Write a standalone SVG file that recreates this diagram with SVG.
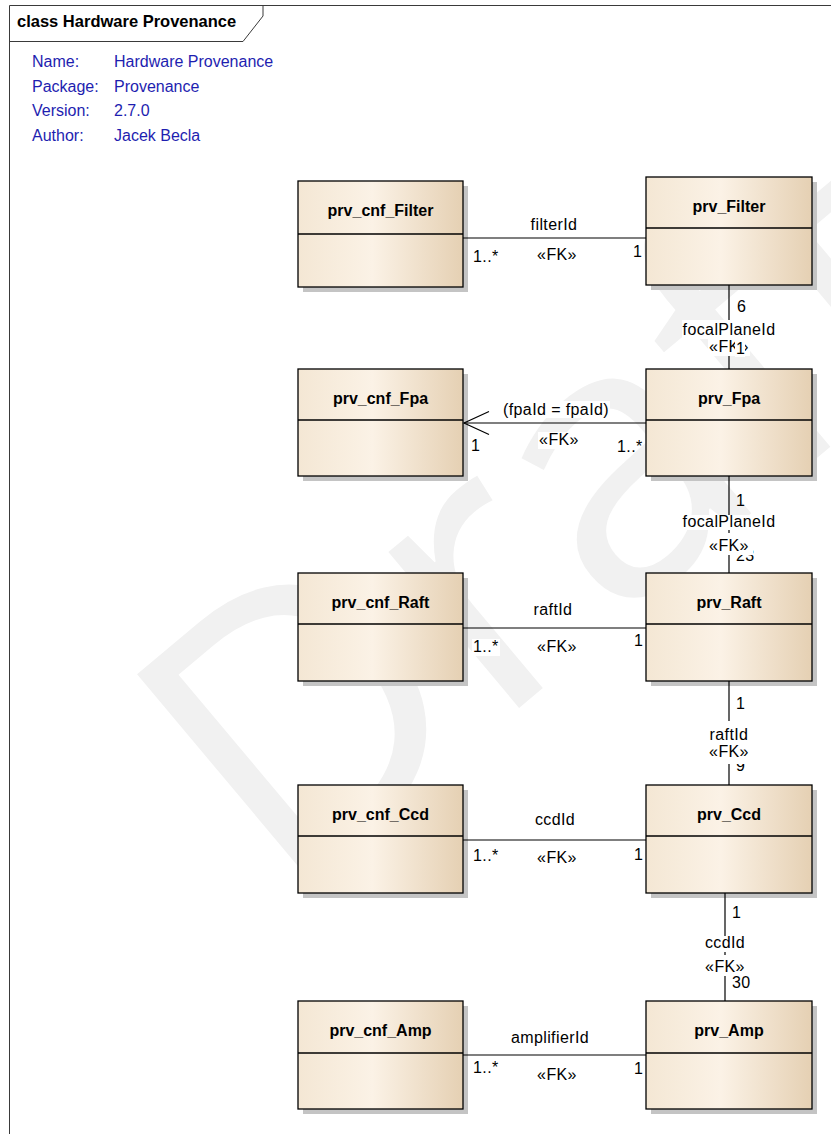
<svg xmlns="http://www.w3.org/2000/svg" width="831" height="1134" viewBox="0 0 831 1134">
<style>
.frame{fill:none;stroke:#3a3a3a;stroke-width:1}
.title{font-family:"Liberation Sans",Arial,sans-serif;font-size:16.5px;font-weight:bold;fill:#000}
.meta{font-family:"Liberation Sans",Arial,sans-serif;font-size:16px;fill:#1e1eb0}
.box{fill:url(#nodeFill);stroke:#000;stroke-width:1.3}
.shadow{fill:#c4c4c4}
.div{stroke:#000;stroke-width:1.3}
.name{font-family:"Liberation Sans",Arial,sans-serif;font-size:16px;font-weight:bold;fill:#000;text-anchor:middle}
.line{fill:none;stroke:#000;stroke-width:1.2}
.lbl{font-family:"Liberation Sans",Arial,sans-serif;font-size:16px;letter-spacing:0.4px;fill:#000}
.mid{text-anchor:middle}
.bg{fill:#fff}
.wm{font-family:"Open Sans","Liberation Sans",sans-serif;font-weight:400;font-size:380px;fill:#f1f1f1}
</style>
<defs>
<linearGradient id="nodeFill" x1="0" y1="0" x2="1" y2="0">
<stop offset="0" stop-color="#f4e7d4"/>
<stop offset="0.45" stop-color="#fbf2e6"/>
<stop offset="1" stop-color="#e5d0b3"/>
</linearGradient>
</defs>
<rect width="831" height="1134" fill="#fff"/>
<g id="watermark">
<text class="wm" x="283" y="906" transform="rotate(-40 283 906)">Draft</text>
</g>
<g id="frame">
<path class="frame" d="M9.5,1134 V5.5 H831"/>
<path class="frame" d="M263,5.5 V16 L243,41.5 H9.5"/>
<text class="title" x="17" y="27">class Hardware Provenance</text>
<text class="meta" x="32" y="67">Name:</text>
<text class="meta" x="114" y="67">Hardware Provenance</text>
<text class="meta" x="32" y="92">Package:</text>
<text class="meta" x="114" y="92">Provenance</text>
<text class="meta" x="32" y="116">Version:</text>
<text class="meta" x="114" y="116">2.7.0</text>
<text class="meta" x="32" y="141">Author:</text>
<text class="meta" x="114" y="141">Jacek Becla</text>
</g>
<g id="node-prv_cnf_Filter">
<rect class="shadow" x="303" y="186" width="165" height="106"/>
<rect class="box" x="298" y="181" width="165" height="106"/>
<line class="div" x1="298" y1="234" x2="463" y2="234"/>
<text class="name" x="380.5" y="216">prv_cnf_Filter</text>
</g>
<g id="node-prv_Filter">
<rect class="shadow" x="651" y="182" width="166" height="108"/>
<rect class="box" x="646" y="177" width="166" height="108"/>
<line class="div" x1="646" y1="228" x2="812" y2="228"/>
<text class="name" x="729" y="212">prv_Filter</text>
</g>
<g id="node-prv_cnf_Fpa">
<rect class="shadow" x="303" y="374" width="165" height="107"/>
<rect class="box" x="298" y="369" width="165" height="107"/>
<line class="div" x1="298" y1="420" x2="463" y2="420"/>
<text class="name" x="380.5" y="404">prv_cnf_Fpa</text>
</g>
<g id="node-prv_Fpa">
<rect class="shadow" x="651" y="374" width="166" height="107"/>
<rect class="box" x="646" y="369" width="166" height="107"/>
<line class="div" x1="646" y1="420" x2="812" y2="420"/>
<text class="name" x="729" y="404">prv_Fpa</text>
</g>
<g id="node-prv_cnf_Raft">
<rect class="shadow" x="303" y="578" width="165" height="108"/>
<rect class="box" x="298" y="573" width="165" height="108"/>
<line class="div" x1="298" y1="624" x2="463" y2="624"/>
<text class="name" x="380.5" y="608">prv_cnf_Raft</text>
</g>
<g id="node-prv_Raft">
<rect class="shadow" x="651" y="578" width="166" height="108"/>
<rect class="box" x="646" y="573" width="166" height="108"/>
<line class="div" x1="646" y1="624" x2="812" y2="624"/>
<text class="name" x="729" y="608">prv_Raft</text>
</g>
<g id="node-prv_cnf_Ccd">
<rect class="shadow" x="303" y="790" width="165" height="108"/>
<rect class="box" x="298" y="785" width="165" height="108"/>
<line class="div" x1="298" y1="836" x2="463" y2="836"/>
<text class="name" x="380.5" y="820">prv_cnf_Ccd</text>
</g>
<g id="node-prv_Ccd">
<rect class="shadow" x="651" y="790" width="166" height="108"/>
<rect class="box" x="646" y="785" width="166" height="108"/>
<line class="div" x1="646" y1="836" x2="812" y2="836"/>
<text class="name" x="729" y="820">prv_Ccd</text>
</g>
<g id="node-prv_cnf_Amp">
<rect class="shadow" x="303" y="1006" width="165" height="108"/>
<rect class="box" x="298" y="1001" width="165" height="108"/>
<line class="div" x1="298" y1="1053" x2="463" y2="1053"/>
<text class="name" x="380.5" y="1036">prv_cnf_Amp</text>
</g>
<g id="node-prv_Amp">
<rect class="shadow" x="651" y="1006" width="166" height="108"/>
<rect class="box" x="646" y="1001" width="166" height="108"/>
<line class="div" x1="646" y1="1053" x2="812" y2="1053"/>
<text class="name" x="729" y="1036">prv_Amp</text>
</g>
<g id="connectors">
<!-- Filter row -->
<line class="line" x1="463" y1="238" x2="646" y2="238"/>
<rect class="bg" x="529" y="217" width="50" height="16"/>
<text class="lbl mid" x="554" y="230">filterId</text>
<rect class="bg" x="472" y="249" width="28" height="16"/>
<text class="lbl" x="473" y="262">1..*</text>
<rect class="bg" x="536" y="247" width="42" height="17"/>
<text class="lbl mid" x="557" y="260">«FK»</text>
<text class="lbl" x="633" y="257">1</text>
<!-- Fpa row -->
<line class="line" x1="464" y1="423" x2="646" y2="423"/>
<polyline class="line" points="489,411.5 464,423 489,434.5"/>
<rect class="bg" x="503" y="401" width="107" height="17"/>
<text class="lbl mid" x="556" y="415">(fpaId = fpaId)</text>
<text class="lbl" x="471" y="451">1</text>
<rect class="bg" x="538" y="432" width="42" height="17"/>
<text class="lbl mid" x="559" y="445">«FK»</text>
<text class="lbl" x="617" y="452">1..*</text>
<!-- Raft row -->
<line class="line" x1="463" y1="628" x2="646" y2="628"/>
<rect class="bg" x="533" y="602" width="41" height="16"/>
<text class="lbl mid" x="553" y="615">raftId</text>
<rect class="bg" x="472" y="639" width="28" height="17"/>
<text class="lbl" x="473" y="652">1..*</text>
<rect class="bg" x="536" y="639" width="42" height="17"/>
<text class="lbl mid" x="557" y="652">«FK»</text>
<text class="lbl" x="634" y="646">1</text>
<!-- Ccd row -->
<line class="line" x1="463" y1="840" x2="646" y2="840"/>
<rect class="bg" x="534" y="812" width="42" height="16"/>
<text class="lbl mid" x="555" y="825">ccdId</text>
<rect class="bg" x="472" y="848" width="28" height="17"/>
<text class="lbl" x="473" y="861">1..*</text>
<rect class="bg" x="536" y="850" width="42" height="17"/>
<text class="lbl mid" x="557" y="863">«FK»</text>
<text class="lbl" x="634" y="860">1</text>
<!-- Amp row -->
<line class="line" x1="463" y1="1055" x2="646" y2="1055"/>
<rect class="bg" x="510" y="1030" width="80" height="17"/>
<text class="lbl mid" x="550" y="1043">amplifierId</text>
<rect class="bg" x="472" y="1060" width="28" height="17"/>
<text class="lbl" x="473" y="1073">1..*</text>
<rect class="bg" x="536" y="1067" width="42" height="17"/>
<text class="lbl mid" x="557" y="1080">«FK»</text>
<text class="lbl" x="634" y="1074">1</text>
<!-- Filter to Fpa -->
<line class="line" x1="729" y1="285" x2="729" y2="369"/>
<text class="lbl" x="737" y="312">6</text>
<rect class="bg" x="682" y="320" width="94" height="19"/>
<text class="lbl mid" x="729" y="335">focalPlaneId</text>
<rect class="bg" x="708" y="339" width="42" height="17"/>
<text class="lbl mid" x="729" y="352">«FK»</text>
<rect class="bg" x="735" y="340" width="10" height="17"/>
<text class="lbl" x="736" y="354">1</text>
<!-- Fpa to Raft -->
<line class="line" x1="729" y1="476" x2="729" y2="573"/>
<text class="lbl" x="736" y="506">1</text>
<rect class="bg" x="682" y="515" width="94" height="15"/>
<text class="lbl mid" x="729" y="527">focalPlaneId</text>
<text class="lbl" x="736" y="561">23</text>
<rect class="bg" x="708" y="533" width="45" height="22"/>
<text class="lbl mid" x="729" y="551">«FK»</text>
<!-- Raft to Ccd -->
<line class="line" x1="729" y1="681" x2="729" y2="785"/>
<text class="lbl" x="736" y="709">1</text>
<rect class="bg" x="709" y="721" width="41" height="23"/>
<text class="lbl mid" x="729" y="740">raftId</text>
<text class="lbl" x="736" y="771">9</text>
<rect class="bg" x="708" y="744" width="45" height="20"/>
<text class="lbl mid" x="729" y="757">«FK»</text>
<!-- Ccd to Amp -->
<line class="line" x1="725" y1="893" x2="725" y2="1001"/>
<text class="lbl" x="732" y="918">1</text>
<rect class="bg" x="704" y="936" width="42" height="16"/>
<text class="lbl mid" x="725" y="948">ccdId</text>
<text class="lbl" x="732" y="988">30</text>
<rect class="bg" x="704" y="955" width="45" height="21"/>
<text class="lbl mid" x="725" y="972">«FK»</text>
</g>
</svg>
